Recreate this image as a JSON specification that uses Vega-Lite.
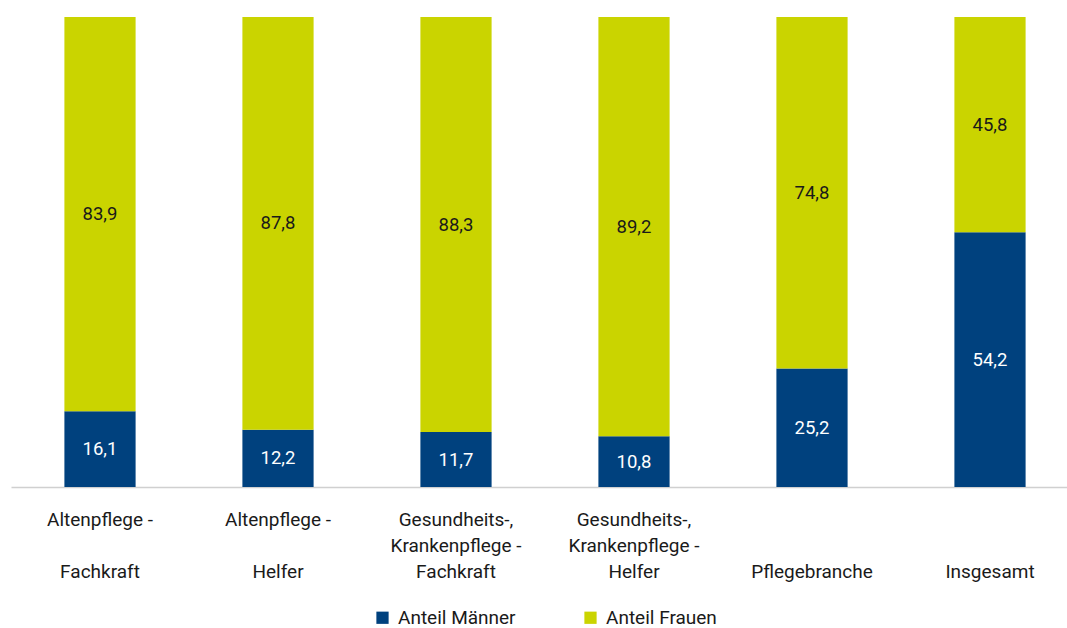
{
  "$schema": "https://vega.github.io/schema/vega-lite/v6.json",
  "autosize": {"type": "none"},
  "width": 1068,
  "height": 470,
  "padding": {"left": 11, "top": 17, "right": -12, "bottom": 141},
  "config": {
    "view": {"stroke": null},
    "font": "Roboto",
    "legend": {"layout": {"bottom": {"anchor": "middle"}}},
    "locale": {"number": {"decimal": ",", "thousands": ".", "grouping": [3], "currency": ["", " €"]}}
  },
  "data": {"values": [
    {"cat": "Altenpflege -|\u2800|Fachkraft", "serie": "Anteil Männer", "ord": 1, "wert": 16.1},
    {"cat": "Altenpflege -|\u2800|Fachkraft", "serie": "Anteil Frauen", "ord": 2, "wert": 83.9},
    {"cat": "Altenpflege -|\u2800|Helfer", "serie": "Anteil Männer", "ord": 1, "wert": 12.2},
    {"cat": "Altenpflege -|\u2800|Helfer", "serie": "Anteil Frauen", "ord": 2, "wert": 87.8},
    {"cat": "Gesundheits-,|Krankenpflege -|Fachkraft", "serie": "Anteil Männer", "ord": 1, "wert": 11.7},
    {"cat": "Gesundheits-,|Krankenpflege -|Fachkraft", "serie": "Anteil Frauen", "ord": 2, "wert": 88.3},
    {"cat": "Gesundheits-,|Krankenpflege -|Helfer", "serie": "Anteil Männer", "ord": 1, "wert": 10.8},
    {"cat": "Gesundheits-,|Krankenpflege -|Helfer", "serie": "Anteil Frauen", "ord": 2, "wert": 89.2},
    {"cat": "\u2800|\u2800|Pflegebranche", "serie": "Anteil Männer", "ord": 1, "wert": 25.2},
    {"cat": "\u2800|\u2800|Pflegebranche", "serie": "Anteil Frauen", "ord": 2, "wert": 74.8},
    {"cat": "\u2800|\u2800|Insgesamt", "serie": "Anteil Männer", "ord": 1, "wert": 54.2},
    {"cat": "\u2800|\u2800|Insgesamt", "serie": "Anteil Frauen", "ord": 2, "wert": 45.8}
  ]},
  "transform": [
    {"stack": "wert", "groupby": ["cat"], "sort": [{"field": "ord", "order": "ascending"}], "as": ["y0", "y1"]},
    {"calculate": "(datum.y0 + datum.y1) / 2", "as": "ymid"}
  ],
  "encoding": {
    "x": {
      "field": "cat", "type": "nominal", "sort": null,
      "scale": {"paddingInner": 0.6, "paddingOuter": 0.3},
      "axis": {
        "title": null, "labelAngle": 0, "ticks": false,
        "labelExpr": "split(datum.label, '|')",
        "labelFontSize": 19, "labelColor": "#1a1a1a", "labelLineHeight": 26,
        "labelPadding": 23, "labelBaseline": "top",
        "domainColor": "#d0d0d0", "domainWidth": 1.5, "labelLimit": 0
      }
    }
  },
  "layer": [
    {
      "mark": {"type": "bar"},
      "encoding": {
        "y": {"field": "y0", "type": "quantitative", "scale": {"domain": [0, 100]}, "axis": null},
        "y2": {"field": "y1"},
        "color": {
          "field": "serie", "type": "nominal",
          "scale": {"domain": ["Anteil Männer", "Anteil Frauen"], "range": ["#00417e", "#cad400"]},
          "legend": {
            "title": null, "orient": "bottom", "direction": "horizontal",
            "symbolType": "square", "symbolSize": 150, "symbolStrokeWidth": 0,
            "labelFontSize": 19, "labelColor": "#1a1a1a", "columnPadding": 65,
            "labelOffset": 6, "offset": 27
          }
        }
      }
    },
    {
      "mark": {"type": "text", "fontSize": 18.5, "baseline": "middle"},
      "encoding": {
        "y": {"field": "ymid", "type": "quantitative", "scale": {"domain": [0, 100]}},
        "text": {"field": "wert", "type": "quantitative", "format": ".1f"},
        "color": {
          "condition": {"test": "datum.serie === 'Anteil Männer'", "value": "#ffffff"},
          "value": "#1a1a1a"
        }
      }
    }
  ]
}
